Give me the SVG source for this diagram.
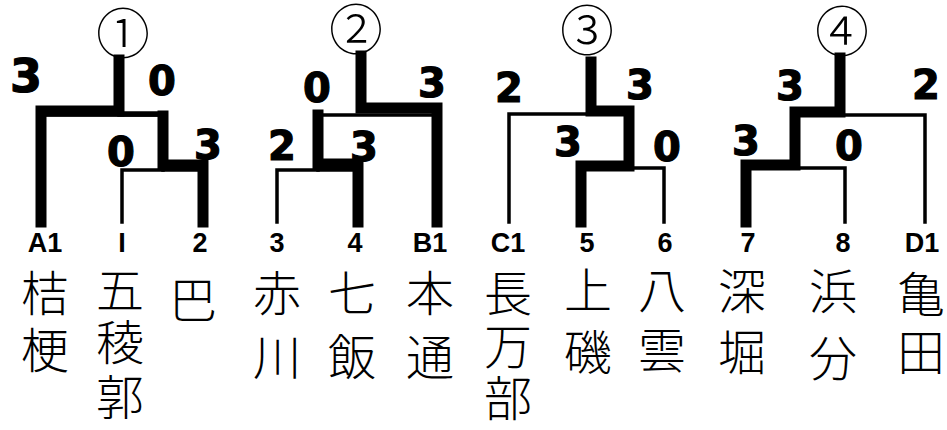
<svg xmlns="http://www.w3.org/2000/svg" width="947" height="430" viewBox="0 0 947 430">
<style>
.thin{fill:none;stroke:#000;stroke-width:3.5;stroke-linecap:square;stroke-linejoin:miter}
.mid{fill:none;stroke:#000;stroke-width:5.5;stroke-linecap:square}
.thick{fill:none;stroke:#000;stroke-width:11;stroke-linecap:square;stroke-linejoin:miter}
.lab{font-family:"Liberation Sans",Arial,sans-serif;font-weight:bold;font-size:27px;text-anchor:middle;fill:#000}
.name{font-family:"Noto Sans CJK JP","Noto Sans CJK SC",sans-serif;font-weight:300;font-size:48px;text-anchor:middle;fill:#000}
.score{font-family:"DejaVu Sans",sans-serif;font-weight:bold;font-size:40px;text-anchor:middle;fill:#000;stroke:#000;stroke-width:1.2}
.cnum{font-family:"Noto Sans CJK JP",sans-serif;font-weight:300;font-size:54px;text-anchor:middle;fill:#000}
</style>
<rect width="947" height="430" fill="#fff"/>
<g id="connectors">
  <!-- bracket 1 -->
  <path class="thin" d="M122,222 V170 H203 V222"/>
  <path class="thin" d="M41,222 V115 H163 V170"/>
  <path class="mid" d="M120,114 H163"/>
  <path class="thick" d="M41,222 V111 H119 M119,60 V111"/>
  <path class="thick" d="M203,222 V165 H163 V116"/>
  <!-- bracket 2 -->
  <path class="thin" d="M277,222 V170 H358 V222"/>
  <path class="thin" d="M318,170 V115 H437 V222"/>
  <path class="thick" d="M358,222 V164 H318 V115"/>
  <path class="thick" d="M437,222 V108 H361 M361,56 V108"/>
  <!-- bracket 3 -->
  <path class="thin" d="M509,222 V114 H629 V168"/>
  <path class="thin" d="M581,222 V168 H664 V222"/>
  <path class="thick" d="M581,222 V166 H629 V111 H591 M591,62 V111"/>
  <!-- bracket 4 -->
  <path class="thin" d="M795,115 H925 V222"/>
  <path class="thin" d="M746,222 V168 H845 V222"/>
  <path class="thick" d="M746,222 V165 H795 V112 H840 M840,58 V112"/>
</g>
<g id="scores">
  <text class="score" x="26" y="92" style="font-size:46px">3</text>
  <text class="score" x="162" y="95">0</text>
  <text class="score" x="121" y="166">0</text>
  <text class="score" x="208" y="159">3</text>
  <text class="score" x="317" y="102">0</text>
  <text class="score" x="432" y="97">3</text>
  <text class="score" x="282" y="160">2</text>
  <text class="score" x="364" y="161">3</text>
  <text class="score" x="509" y="102">2</text>
  <text class="score" x="640" y="99">3</text>
  <text class="score" x="568" y="156">3</text>
  <text class="score" x="667" y="161">0</text>
  <text class="score" x="790" y="100">3</text>
  <text class="score" x="926" y="99">2</text>
  <text class="score" x="746" y="155">3</text>
  <text class="score" x="849" y="160">0</text>
</g>
<g id="match-1"><text class="cnum" x="123" y="54">①</text></g>
<g id="match-2"><text class="cnum" x="356" y="50">②</text></g>
<g id="match-3"><text class="cnum" x="587" y="51">③</text></g>
<g id="match-4"><text class="cnum" x="842" y="52">④</text></g>
<g id="node-A1"><text class="lab" x="45" y="252">A1</text><text class="name"><tspan x="45" y="311">桔</tspan><tspan x="45" y="368">梗</tspan></text></g>
<g id="node-I"><text class="lab" x="122" y="252">I</text><text class="name"><tspan x="120" y="308">五</tspan><tspan x="120" y="360">稜</tspan><tspan x="120" y="415">郭</tspan></text></g>
<g id="node-2"><text class="lab" x="200" y="252">2</text><text class="name"><tspan x="193" y="318">巴</tspan></text></g>
<g id="node-3"><text class="lab" x="277" y="252">3</text><text class="name"><tspan x="277" y="311">赤</tspan><tspan x="277" y="375">川</tspan></text></g>
<g id="node-4"><text class="lab" x="355" y="252">4</text><text class="name"><tspan x="352" y="311">七</tspan><tspan x="352" y="375">飯</tspan></text></g>
<g id="node-B1"><text class="lab" x="430" y="252">B1</text><text class="name"><tspan x="430" y="311">本</tspan><tspan x="430" y="375">通</tspan></text></g>
<g id="node-C1"><text class="lab" x="508" y="252">C1</text><text class="name"><tspan x="508" y="311">長</tspan><tspan x="508" y="364">万</tspan><tspan x="508" y="416">部</tspan></text></g>
<g id="node-5"><text class="lab" x="587" y="252">5</text><text class="name"><tspan x="588" y="308">上</tspan><tspan x="588" y="370">磯</tspan></text></g>
<g id="node-6"><text class="lab" x="665" y="252">6</text><text class="name"><tspan x="662" y="308">八</tspan><tspan x="662" y="368">雲</tspan></text></g>
<g id="node-7"><text class="lab" x="748" y="252">7</text><text class="name"><tspan x="742" y="309">深</tspan><tspan x="742" y="370">堀</tspan></text></g>
<g id="node-8"><text class="lab" x="843" y="252">8</text><text class="name"><tspan x="833" y="309">浜</tspan><tspan x="833" y="376">分</tspan></text></g>
<g id="node-D1"><text class="lab" x="922" y="252">D1</text><text class="name"><tspan x="921" y="312">亀</tspan><tspan x="921" y="370">田</tspan></text></g>
</svg>
